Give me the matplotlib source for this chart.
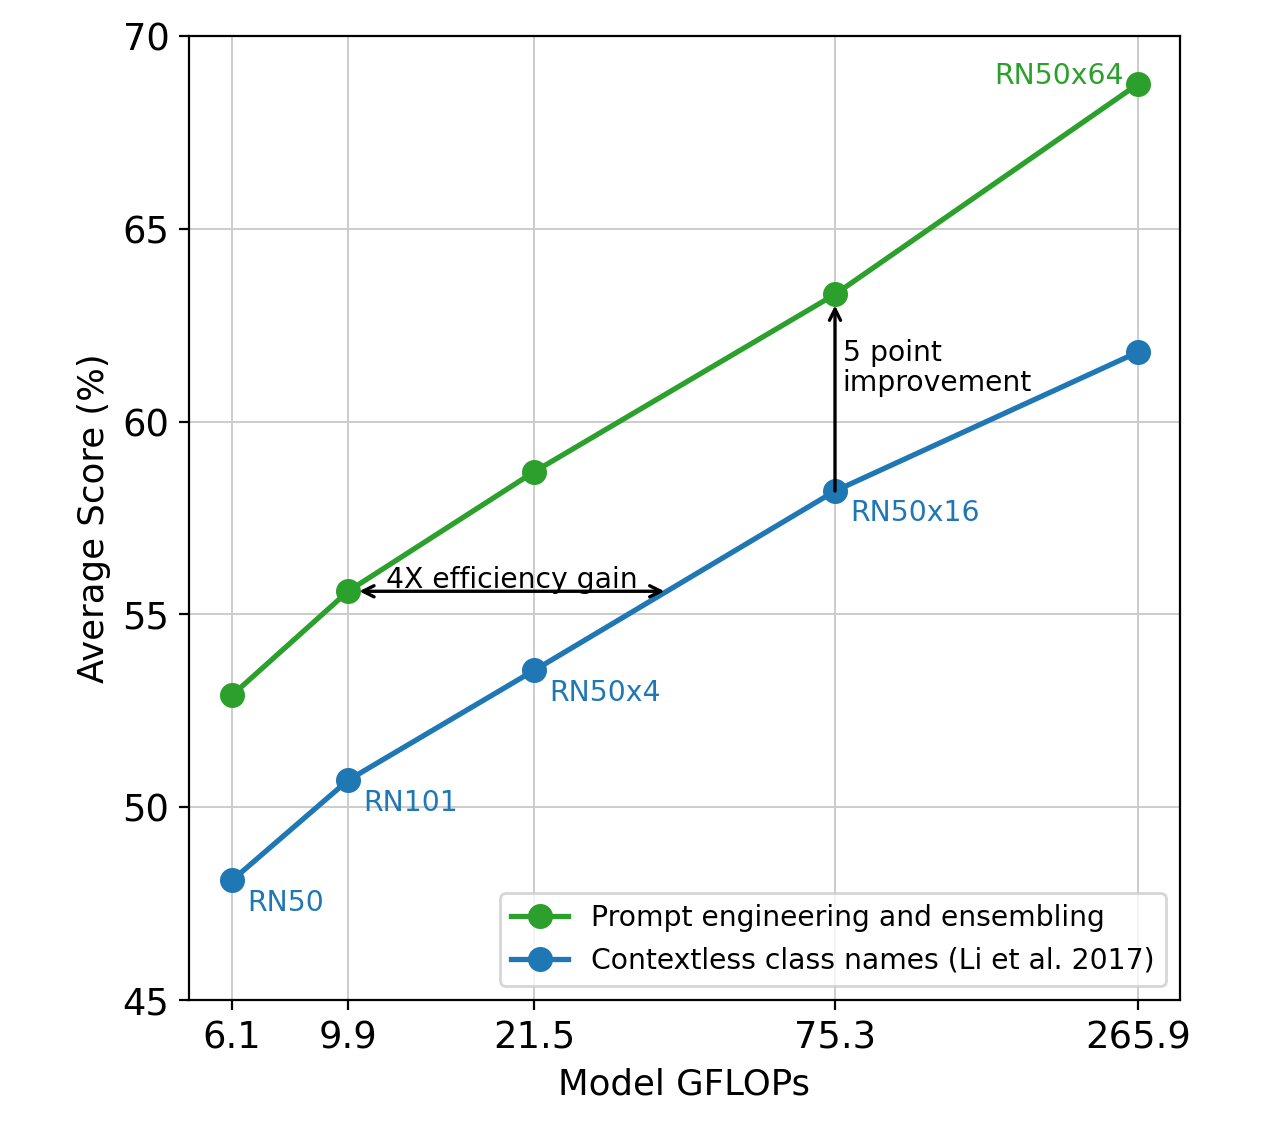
import numpy as np
import matplotlib.pyplot as plt
from matplotlib.ticker import NullLocator

gflops = [6.1, 9.9, 21.5, 75.3, 265.9]
tick_labels = ['6.1', '9.9', '21.5', '75.3', '265.9']
model_names = ['RN50', 'RN101', 'RN50x4', 'RN50x16', 'RN50x64']
prompt_scores = [52.9, 55.6, 58.7, 63.3, 68.75]
contextless_scores = [48.1, 50.7, 53.55, 58.2, 61.8]

green = '#2ca02c'
blue = '#1f77b4'

fig = plt.figure(figsize=(6.44, 5.625), dpi=200)
ax = fig.add_axes([0.1467, 0.1111, 0.9161 - 0.1467, 0.968 - 0.1111])

ax.plot(gflops, prompt_scores, '-o', color=green, lw=1.9, ms=8,
        label='Prompt engineering and ensembling')
ax.plot(gflops, contextless_scores, '-o', color=blue, lw=1.9, ms=8,
        label='Contextless class names (Li et al. 2017)')

ax.set_xscale('log')
ax.xaxis.set_minor_locator(NullLocator())
ax.set_xticks(gflops)
ax.set_xticklabels(tick_labels)
ax.set_xlim(5.1, 317)
ax.set_ylim(45, 70)
ax.set_yticks([45, 50, 55, 60, 65, 70])
ax.tick_params(labelsize=13.3)
ax.grid(True, color='#cccccc', linewidth=0.7)
ax.set_axisbelow(True)

ax.set_xlabel('Model GFLOPs', fontsize=12.8)
ax.set_ylabel('Average Score (%)', fontsize=12.8)

# model name labels
for x, y, name in zip(gflops[:4], contextless_scores[:4], model_names[:4]):
    ax.annotate(name, (x, y), xytext=(5.5, -3), textcoords='offset points',
                ha='left', va='top', color=blue, fontsize=10.2)
ax.annotate(model_names[4], (gflops[4], prompt_scores[4]), xytext=(-5, 3),
            textcoords='offset points', ha='right', va='center',
            color=green, fontsize=10.2)

# efficiency arrow
ax.annotate('', xy=(37.0, prompt_scores[1]), xytext=(gflops[1], prompt_scores[1]),
            arrowprops=dict(arrowstyle='<->', color='black', lw=1.2,
                            shrinkA=4, shrinkB=0))
ax.text(19.6, prompt_scores[1] + 0.08, '4X efficiency gain', ha='center',
        va='baseline', fontsize=10.2)

# improvement arrow
ax.annotate('', xy=(gflops[3], prompt_scores[3]), xytext=(gflops[3], contextless_scores[3]),
            arrowprops=dict(arrowstyle='->', color='black', lw=1.2,
                            shrinkA=0, shrinkB=4))
ax.text(77.8, 61.4, '5 point\nimprovement', ha='left', va='center',
        fontsize=10.2, linespacing=1.1)

ax.legend(loc='lower right', fontsize=10.2)

fig.savefig('out.png', dpi=200, facecolor='white')
